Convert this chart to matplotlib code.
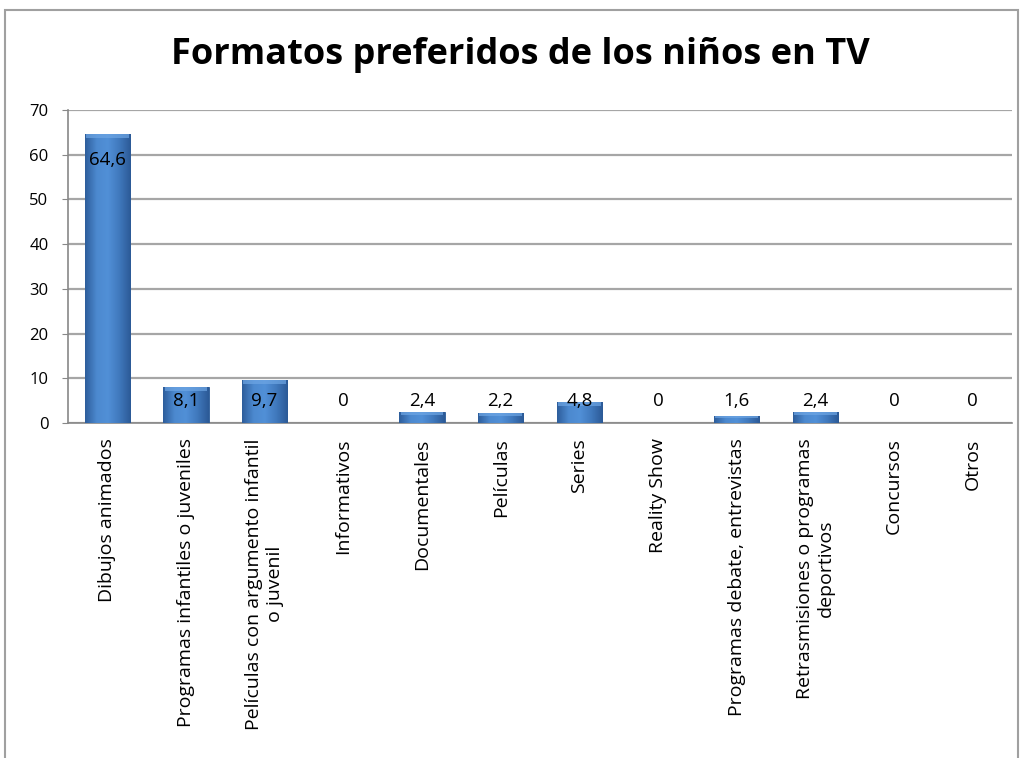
import matplotlib
matplotlib.use("Agg")
import matplotlib.pyplot as plt
import numpy as np
from matplotlib.patches import Rectangle
from matplotlib.colors import LinearSegmentedColormap

categories = [
    "Dibujos animados",
    "Programas infantiles o juveniles",
    "Películas con argumento infantil\no juvenil",
    "Informativos",
    "Documentales",
    "Películas",
    "Series",
    "Reality Show",
    "Programas debate, entrevistas",
    "Retrasmisiones o programas\ndeportivos",
    "Concursos",
    "Otros",
]
values = [64.6, 8.1, 9.7, 0, 2.4, 2.2, 4.8, 0, 1.6, 2.4, 0, 0]
value_labels = ["64,6", "8,1", "9,7", "0", "2,4", "2,2", "4,8", "0", "1,6", "2,4", "0", "0"]
yticks = [0, 10, 20, 30, 40, 50, 60, 70]

plt.rcParams['font.family'] = ['Open Sans', 'DejaVu Sans']

fig = plt.figure(figsize=(10.23, 7.58), dpi=100)
fig.patches.append(Rectangle((5/1023, -0.05), 1013/1023, 1.05 - 10/758,
                             transform=fig.transFigure, fill=False,
                             edgecolor='#a0a0a0', linewidth=1.5))

ax = fig.add_axes([68/1023, 1 - 423/758, (1012-68)/1023, (423-110)/758])
x = list(range(len(categories)))
bw = 0.58
bars = ax.bar(x, values, width=bw, color='#3f74b6', edgecolor='#2a5a96',
              linewidth=0.6, zorder=3)

cmap = LinearSegmentedColormap.from_list(
    'barg', ['#2e5e9c', '#4c89cf', '#5190d7', '#4079bd', '#2c5a97'])
grad = np.linspace(0, 1, 64).reshape(1, -1)
for b, v in zip(bars, values):
    if v <= 0:
        continue
    x0 = b.get_x()
    im = ax.imshow(grad, cmap=cmap, aspect='auto', zorder=3.1,
                   extent=[x0, x0 + bw, 0, v], origin='lower')
    im.set_clip_path(b)
    cap = min(0.9, v * 0.25)
    ax.add_patch(Rectangle((x0 + 0.02, v - cap), bw - 0.04, cap,
                           facecolor='#6ea6e4', edgecolor='none', alpha=0.7,
                           zorder=3.2))

for xi, v, lab in zip(x, values, value_labels):
    y = max(v - 5.8, 4.9)
    ax.text(xi, y, lab, ha='center', va='center', fontsize=13.5, color='black', zorder=5)

ax.set_xlim(-0.5, len(categories) - 0.5)
ax.set_ylim(0, 70)
ax.set_yticks(yticks)
ax.set_yticklabels([str(t) for t in yticks], fontsize=12)
ax.yaxis.grid(True, color='#a6a6a6', linewidth=1.6, zorder=0)
ax.set_axisbelow(True)
ax.set_xticks(x)
ax.set_xticklabels(categories, rotation=90, fontsize=14, ha='center', va='top',
                   multialignment='center')
ax.tick_params(axis='x', length=0, pad=11)
ax.tick_params(axis='y', length=4, color='#888888', pad=10)
for s in ['top', 'right']:
    ax.spines[s].set_visible(False)
ax.spines['left'].set_color('#888888')
ax.spines['bottom'].set_color('#888888')
ax.spines['left'].set_linewidth(1.2)
ax.spines['bottom'].set_linewidth(1.2)

fig.text(520/1023, 1 - 55/758, "Formatos preferidos de los niños en TV",
         ha='center', va='center', fontsize=26, fontweight='bold')

fig.savefig("out.png", dpi=100)
